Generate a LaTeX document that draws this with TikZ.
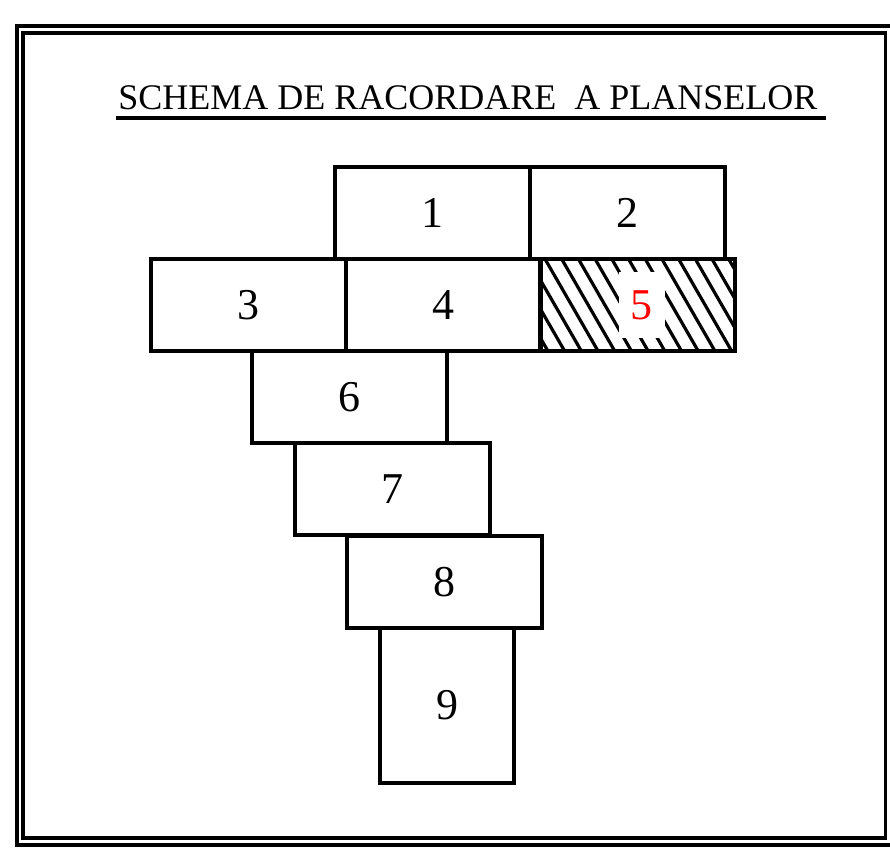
\documentclass[tikz,border=0pt]{standalone}
\usepackage{fontspec}
\setmainfont{Liberation Serif}
\usetikzlibrary{calc}
\tikzset{
    plan diagram/.style = {x=0.5pt, y=-0.5pt},
    frame/.style        = {line width=1.8pt},
    sheet/.style        = {draw, line width=2pt, inner sep=0pt, outer sep=0pt,
                           minimum width=97.5pt, minimum height=46pt,
                           font=\fontsize{22}{22}\selectfont},
    tall sheet/.style   = {sheet, minimum width=67pt, minimum height=77.5pt},
    hatch/.style        = {line width=1.6pt},
    current/.style      = {fill=white, text=red, inner xsep=6pt, inner ysep=9pt,
                           font=\fontsize{22}{22}\selectfont},
    title/.style        = {inner sep=0pt, font=\fontsize{18}{18}\selectfont},
    underline/.style    = {line width=1.8pt}
}

\begin{document}
\begin{tikzpicture}[plan diagram]
\useasboundingbox (0,0) rectangle (890,855);

% ================= Double frame =================
\draw[frame] (895,26) -- (17,26) -- (17,845) -- (895,845);
\draw[frame] (23,33) rectangle (885.5,838);

% ================= Title =================
\node[title, anchor=base] (title) at (468,110)
    {SCHEMA DE RACORDARE~~A PLANSELOR};
\draw[underline] ([xshift=-1pt, yshift=-4pt]title.base west)
    -- ([xshift=4pt, yshift=-4pt]title.base east);

% ================= Sheets =================
\node[sheet] (p1) at (432.5,213) {1};
\node[sheet] (p2) at (627,213)   {2};
\node[sheet] (p3) at (248.5,305) {3};
\node[sheet] (p4) at (443,305)   {4};
\node[sheet] (p5) at (637.5,305) {};
\node[sheet] (p6) at (349.5,397) {6};
\node[sheet] (p7) at (392,489.5) {7};
\node[sheet] (p8) at (444,582)   {8};
\node[tall sheet] (p9) at (447,705.5) {9};

% current sheet: hatched, number in red
\begin{scope}
  \clip (p5.north west) rectangle (p5.south east);
  \foreach \i in {-3,...,11}
    \draw[hatch] ($(p5.north west)+(5+\i*16.7,0)$) -- ++(53,92);
\end{scope}
\node[current] (n5) at ([xshift=2pt]p5) {5};

\end{tikzpicture}
\end{document}
